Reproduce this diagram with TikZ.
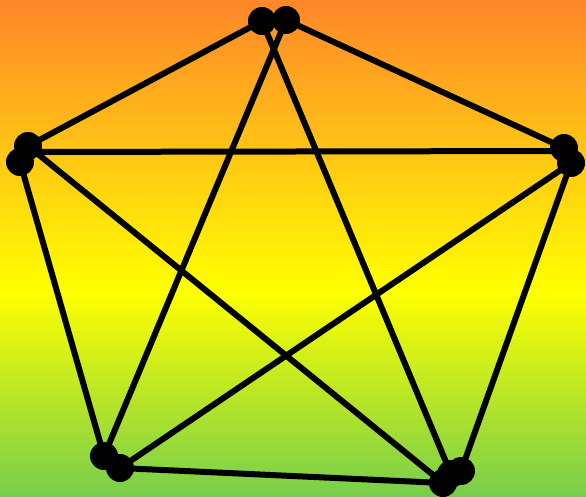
\documentclass[tikz,border=0pt]{standalone}
\definecolor{bgO}{RGB}{255,134,42}
\definecolor{bgY}{RGB}{255,255,0}
\definecolor{bgG}{RGB}{118,206,76}
\pgfdeclareverticalshading{bgshade}{100bp}{color(0bp)=(bgG); color(25bp)=(bgG); color(45.8bp)=(bgY); color(75bp)=(bgO); color(100bp)=(bgO)}
\tikzset{
  dot/.style={circle, fill=black, draw=none, minimum size=28pt, inner sep=0pt},
  edge/.style={draw=black, line width=6pt}
}
\begin{document}
\begin{tikzpicture}[x=1pt,y=-1pt]
\useasboundingbox (0,0) rectangle (586,497);
\fill[shading=bgshade] (0,0) rectangle (586,497);
% dots
\node[dot] (T1) at (262,21) {};
\node[dot] (T2) at (286,20) {};
\node[dot] (L1) at (28,146) {};
\node[dot] (L2) at (20,162) {};
\node[dot] (R1) at (564,148) {};
\node[dot] (R2) at (571,163) {};
\node[dot] (BL1) at (104,456) {};
\node[dot] (BL2) at (120,468) {};
\node[dot] (BR1) at (443,483) {};
\node[dot] (BR2) at (451,474) {};
\node[dot] (BR3) at (461,471) {};
\coordinate (L3) at (27,152);
\coordinate (R3) at (565,151);
% edges
\draw[edge] (T1.center) -- (L1.center);
\draw[edge] (T2.center) -- (R1.center);
\draw[edge] (T2.center) -- (BL1.center);
\draw[edge] (T1.center) -- (BR2.center);
\draw[edge] (L3) -- (R3);
\draw[edge] (L2.center) -- (BL1.center);
\draw[edge] (L1.center) -- (BR1.center);
\draw[edge] (R2.center) -- (BL2.center);
\draw[edge] (R2.center) -- (BR3.center);
\draw[edge] (BL2.center) -- (BR1.center);
\end{tikzpicture}
\end{document}
